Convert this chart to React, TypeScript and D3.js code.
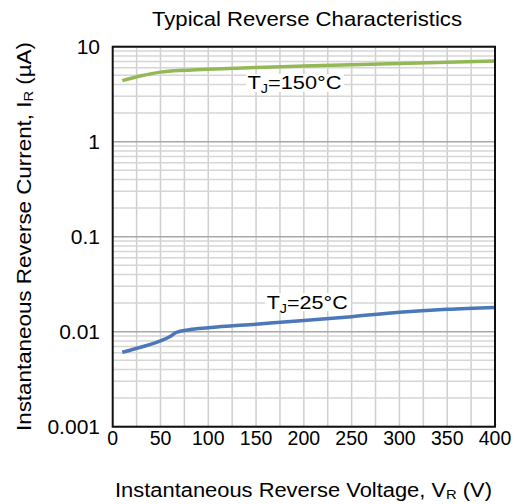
import React from 'react'
import * as d3 from 'd3'

const title = 'Typical Reverse Characteristics'
const xTicks = [0, 50, 100, 150, 200, 250, 300, 350, 400]
const yTicks = [0.001, 0.01, 0.1, 1, 10]
const yTickLabels = ['0.001', '0.01', '0.1', '1', '10']

// T_J = 150°C
const hotV = [10, 30, 50, 75, 100, 150, 200, 250, 300, 350, 400]
const hotI = [4.4, 4.95, 5.4, 5.65, 5.8, 6.05, 6.25, 6.45, 6.65, 6.85, 7.05]

// T_J = 25°C
const coldV = [10, 30, 50, 60, 66, 80, 100, 150, 200, 250, 300, 350, 400]
const coldI = [0.00607, 0.0069, 0.0080, 0.0089, 0.0098, 0.0105, 0.0110, 0.0120, 0.0131, 0.0144, 0.0160, 0.0172, 0.0180]

const font = '"Liberation Sans", Arial, sans-serif'

export default function App() {
  const W = 518, H = 504
  const left = 112.7, right = 495, top = 46.7, bottom = 426.7

  const x = d3.scaleLinear().domain([0, 400]).range([left, right])
  const y = d3.scaleLog().domain([0.001, 10]).range([bottom, top])

  const line = d3.line<[number, number]>()
    .x(d => x(d[0]))
    .y(d => y(d[1]))
    .curve(d3.curveMonotoneX)

  const hot = hotV.map((v, i) => [v, hotI[i]] as [number, number])
  const cold = coldV.map((v, i) => [v, coldI[i]] as [number, number])

  const vGrid = d3.range(25, 400, 25)
  const minor: number[] = []
  for (let e = -3; e < 1; e++) {
    for (let k = 2; k <= 9; k++) minor.push(k * Math.pow(10, e))
  }

  return (
    <svg width={W} height={H} style={{ position: 'absolute', left: 0, top: 0 }} fontFamily={font}>
      <rect width={W} height={H} fill="#fff" />
      <text x={152} y={26} fontSize={21} textLength={310} lengthAdjust="spacingAndGlyphs">{title}</text>

      {vGrid.map(v => (
        <line key={'v' + v} x1={x(v)} x2={x(v)} y1={top} y2={bottom} stroke="#cfcfcf" strokeWidth={1.5} />
      ))}
      {minor.map(m => (
        <line key={'m' + m} x1={left} x2={right} y1={y(m)} y2={y(m)} stroke="#d6d6d6" strokeWidth={1.5} />
      ))}
      {yTicks.map(t => (
        <line key={'d' + t} x1={left} x2={right} y1={y(t)} y2={y(t)} stroke="#a8a8a8" strokeWidth={1.5} />
      ))}

      <path d={line(hot) || ''} fill="none" stroke="#93b957" strokeWidth={3.5} />
      <path d={line(cold) || ''} fill="none" stroke="#4b78b8" strokeWidth={3.5} />

      <rect x={left} y={top} width={right - left} height={bottom - top} fill="none" stroke="#111" strokeWidth={2} />

      <rect x={246} y={74} width={98} height={18} fill="#fff" />
      <text x={247.5} y={88.5} fontSize={18} textLength={94} lengthAdjust="spacingAndGlyphs">T<tspan fontSize={12} dy={4}>J</tspan><tspan dy={-4}>=150°C</tspan></text>
      <rect x={265} y={293} width={86} height={18} fill="#fff" />
      <text x={266.7} y={308.5} fontSize={18} textLength={81} lengthAdjust="spacingAndGlyphs">T<tspan fontSize={12} dy={4}>J</tspan><tspan dy={-4}>=25°C</tspan></text>

      {xTicks.map(t => (
        <text key={'xt' + t} x={x(t)} y={445} textAnchor="middle" fontSize={19.5}>{t}</text>
      ))}
      {yTicks.map((t, i) => (
        <text key={'yt' + t} x={100} y={y(t) + 7} textAnchor="end" fontSize={21}>{yTickLabels[i]}</text>
      ))}

      <text x={115} y={497} fontSize={20} textLength={377} lengthAdjust="spacingAndGlyphs">
        Instantaneous Reverse Voltage, V<tspan fontSize={13.5} dy={2}>R</tspan><tspan dy={-2}> (V)</tspan>
      </text>
      <text transform={`translate(30.5,431) rotate(-90)`} fontSize={20.5} textLength={389} lengthAdjust="spacingAndGlyphs">
        Instantaneous Reverse Current, I<tspan fontSize={13.5} dy={2}>R</tspan><tspan dy={-2}> (µA)</tspan>
      </text>
    </svg>
  )
}
